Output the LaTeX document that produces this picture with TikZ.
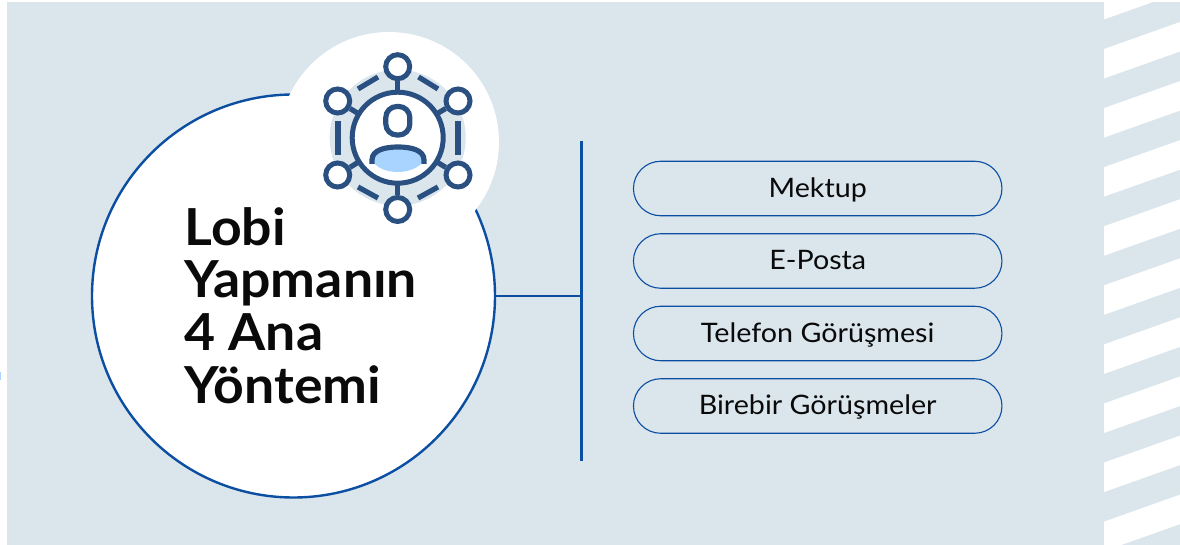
\documentclass[tikz,border=0pt]{standalone}
\usepackage{fontspec}
\setmainfont{Lato}
\newfontfamily\titlefont[FakeStretch=1.05]{Lato}
\newfontfamily\bodyfont[FakeStretch=1.07]{Lato}
\definecolor{bgc}{HTML}{DAE5EC}
\definecolor{lineb}{HTML}{0B4EA2}
\definecolor{iconb}{HTML}{2A5082}
\definecolor{iconl}{HTML}{A8D4FF}
\definecolor{txt}{HTML}{0A0A0A}
\usetikzlibrary{shapes.misc}
\tikzset{
 disc/.style={circle,inner sep=0pt,outer sep=0pt,fill=white},
 pill/.style={rounded rectangle,draw=lineb,line width=1.1pt,minimum width=368.5pt,minimum height=54.5pt,inner sep=0pt,outer sep=0pt,text height=19.4pt,text depth=2pt,font=\bodyfont\fontsize{26.8}{30}\selectfont,text=txt},
 hub/.style={circle,draw=iconb,line width=5pt,fill=white,minimum size=24pt,inner sep=0pt,outer sep=2.5pt},
 iconline/.style={draw=iconb,line width=5.2pt},
 barline/.style={draw=lineb,line width=2.6pt},
}
\begin{document}
\begin{tikzpicture}[x=1pt,y=-1pt]
\useasboundingbox (0,0) rectangle (1180,545);
\fill[white] (0,0) rectangle (1180,545);
\fill[bgc] (7,2) rectangle (1180,545);
\fill[iconl] (0,372) rectangle (1,380);
% stripes
\begin{scope}
\clip (1104,2) rectangle (1180,545);
\foreach \k in {-1,...,8}{
 \pgfmathsetmacro{\t}{49+59.08*\k}
 \fill[white] (1104,\t) -- (1180,\t-27) -- (1180,\t+2.5) -- (1104,\t+29.5) -- cycle;
}
\end{scope}
% main circle and icon disc
\node[disc,draw=lineb,line width=2.4pt,minimum size=403pt] (main) at (293.5,296) {};
\node[disc,minimum size=220pt] (badge) at (389,142) {};
% icon
\fill[bgc] (397.7,137.7) circle (68);
\node[hub,minimum size=91pt,outer sep=0pt] (core) at (397.7,137.7) {};
\fill[iconl] (372,160) .. controls (380,176) and (415,176) .. (424,160) -- (424,156) .. controls (415,146) and (380,146) .. (372,156) -- cycle;
\draw[iconline] (372,164) -- (372,160) .. controls (372,150) and (385,147) .. (398,147) .. controls (411,147) and (424,150) .. (424,160) -- (424,164);
\draw[iconline,rounded corners=11pt] (385.8,106.5) rectangle (409.8,135);
\node[hub] (n1) at (397.7,66.7) {};
\node[hub] (n2) at (458,101) {};
\node[hub] (n3) at (458,175) {};
\node[hub] (n4) at (397.7,209.5) {};
\node[hub] (n5) at (337.7,175) {};
\node[hub] (n6) at (337.7,101) {};
\foreach \n in {1,...,6}{
 \draw[iconline] (n\n) -- (core);
}
\draw[iconline] (418.5,77) -- (438,89);
\draw[iconline] (458,121) -- (458,155);
\draw[iconline] (438,187) -- (418,198);
\draw[iconline] (378,198) -- (358,187);
\draw[iconline] (338,155) -- (338,121);
\draw[iconline] (358,89) -- (378,77);
% title
\node[anchor=north west,inner sep=0pt,align=left,text=txt,font=\titlefont\fontsize{51}{52.7}\selectfont\bfseries] (title) at (184.5,207) {Lobi\\Yapmanın\\4 Ana\\Yöntemi};
% bar
\coordinate (bartop) at (581.3,141);
\coordinate (barbot) at (581.3,461);
\draw[barline] (bartop) -- (barbot);
\draw[barline] (main.east) -- (main.east -| bartop);
% pills
\node[pill] (p1) at (817.7,188.5) {Mektup};
\node[pill] (p2) at (817.7,261) {E-Posta};
\node[pill] (p3) at (817.7,333.5) {Telefon Görüşmesi};
\node[pill] (p4) at (817.7,406) {Birebir Görüşmeler};
\end{tikzpicture}
\end{document}
